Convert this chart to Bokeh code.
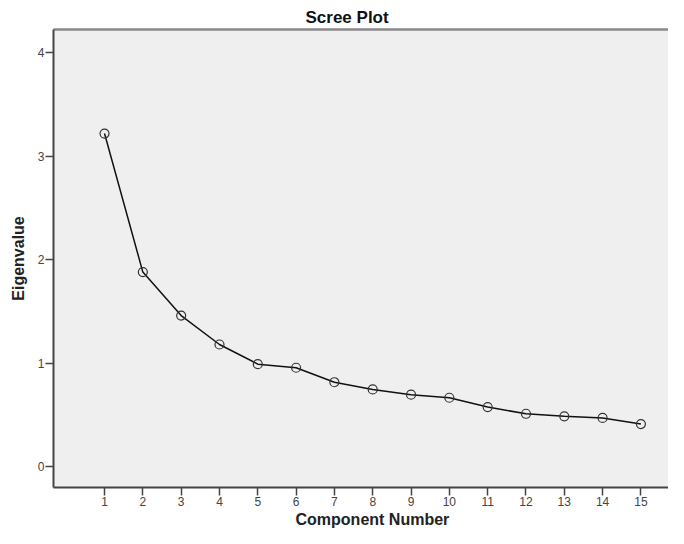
from bokeh.plotting import figure
from bokeh.models import Range1d, LinearAxis, FixedTicker, ColumnDataSource, Title
from bokeh.embed import file_html
from bokeh.resources import INLINE

components = [1, 2, 3, 4, 5, 6, 7, 8, 9, 10, 11, 12, 13, 14, 15]
eigenvalues = [3.22, 1.88, 1.46, 1.18, 0.99, 0.955, 0.815, 0.745, 0.695,
               0.665, 0.575, 0.51, 0.485, 0.47, 0.41]
y_ticks = [0, 1, 2, 3, 4]
title_text = "Scree Plot"
x_label = "Component Number"
y_label = "Eigenvalue"

src = ColumnDataSource(dict(x=components, y=eigenvalues))

p = figure(width=668, height=528, output_backend="svg", toolbar_location=None,
           x_range=Range1d(-0.332, 15.72), y_range=Range1d(-0.203, 4.226),
           min_border_left=53, min_border_right=0, min_border_top=29,
           min_border_bottom=41)
p.background_fill_color = "#efefef"
p.border_fill_color = "white"
p.outline_line_color = None
p.grid.visible = False

p.title.text = title_text
p.title.align = "left"
p.title.offset = 252
p.title.text_font = "Liberation Sans"
p.title.text_font_size = "17px"
p.title.text_font_style = "bold"
p.title.text_color = "#111111"
p.title.standoff = 6

xax = p.below[0]
yax = p.left[0]

top_axis = LinearAxis(major_tick_line_color=None, minor_tick_line_color=None,
                      major_label_text_font_size="0px", major_label_standoff=0,
                      axis_line_color="#8a8a8a", axis_line_width=2.5,
                      ticker=FixedTicker(ticks=[]))
p.add_layout(top_axis, "above")

for ax in (xax, yax):
    ax.axis_line_color = "#444444"
    ax.axis_line_width = 2
    ax.major_tick_line_color = "#444444"
    ax.major_tick_line_width = 1.5
    ax.major_tick_out = 8
    ax.major_tick_in = 0
    ax.minor_tick_line_color = None
    ax.major_label_text_font = "Liberation Sans"
    ax.major_label_text_font_size = "12px"
    ax.major_label_text_color = "#444444"
    ax.axis_label_text_font = "Liberation Sans"
    ax.axis_label_text_font_size = "16px"
    ax.axis_label_text_font_style = "bold"
    ax.axis_label_text_color = "#222222"

xax.ticker = FixedTicker(ticks=components)
xax.major_label_standoff = 1

xtitle = Title(text=x_label, align="left", offset=242, standoff=0,
               text_font="Liberation Sans", text_font_size="16px",
               text_font_style="bold", text_color="#222222")
p.add_layout(xtitle, "below")

yax.ticker = FixedTicker(ticks=y_ticks)
yax.axis_label = y_label
yax.major_label_standoff = 1
yax.axis_label_standoff = 8

p.line("x", "y", source=src, line_color="#111111", line_width=1.5)
p.scatter("x", "y", source=src, marker="circle", size=9, fill_color=None,
          line_color="#333333", line_width=1.2)

open("out.html", "w").write(file_html(p, INLINE))
